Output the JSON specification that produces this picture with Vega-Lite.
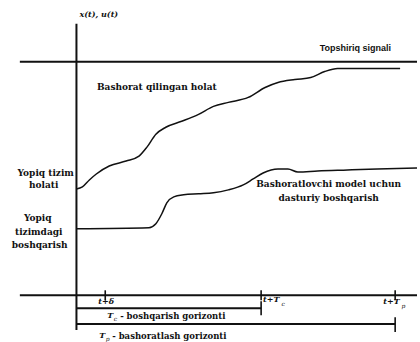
{
  "$schema": "https://vega.github.io/schema/vega-lite/v6.json",
  "width": 420,
  "height": 342,
  "autosize": {"type": "fit", "contains": "padding"},
  "padding": 0,
  "background": "white",
  "config": {"view": {"stroke": null}},
  "datasets": {
    "axes": [
      {"x": 0, "x2": 0, "y": -3.5, "y2": 27.3},
      {"x": -5.7, "x2": 34.3, "y": 23.5, "y2": 23.5},
      {"x": -5.7, "x2": 34.3, "y": 0, "y2": 0},
      {"x": 0, "x2": 18.6, "y": -1.3, "y2": -1.3},
      {"x": 0, "x2": 32.1, "y": -2.9, "y2": -2.9}
    ],
    "ticks": [
      {"x": 2.9, "x2": 2.9, "y": -0.5, "y2": 0.5},
      {"x": 18.6, "x2": 18.6, "y": -0.5, "y2": 0.5},
      {"x": 32.1, "x2": 32.1, "y": -0.5, "y2": 0.5},
      {"x": 18.6, "x2": 18.6, "y": -0.6, "y2": -2.0},
      {"x": 32.1, "x2": 32.1, "y": -2.2, "y2": -3.7}
    ],
    "curves": [
      {"series": "state", "x": 0, "y": 10.7},
      {"series": "state", "x": 0.6, "y": 10.9},
      {"series": "state", "x": 1.3, "y": 11.6},
      {"series": "state", "x": 2.0, "y": 12.2},
      {"series": "state", "x": 3.3, "y": 13.0},
      {"series": "state", "x": 5.0, "y": 13.5},
      {"series": "state", "x": 6.3, "y": 14.0},
      {"series": "state", "x": 7.1, "y": 14.9},
      {"series": "state", "x": 8.0, "y": 16.2},
      {"series": "state", "x": 9.0, "y": 16.9},
      {"series": "state", "x": 10.6, "y": 17.5},
      {"series": "state", "x": 12.3, "y": 18.2},
      {"series": "state", "x": 13.8, "y": 19.0},
      {"series": "state", "x": 15.3, "y": 19.4},
      {"series": "state", "x": 17.3, "y": 19.9},
      {"series": "state", "x": 19.0, "y": 20.9},
      {"series": "state", "x": 20.3, "y": 21.4},
      {"series": "state", "x": 22.0, "y": 21.7},
      {"series": "state", "x": 23.6, "y": 21.9},
      {"series": "state", "x": 25.0, "y": 22.5},
      {"series": "state", "x": 26.3, "y": 22.8},
      {"series": "state", "x": 28.3, "y": 22.8},
      {"series": "state", "x": 32.6, "y": 22.8},
      {"series": "control", "x": 0, "y": 6.7},
      {"series": "control", "x": 7.3, "y": 6.8},
      {"series": "control", "x": 8.0, "y": 7.2},
      {"series": "control", "x": 8.6, "y": 8.2},
      {"series": "control", "x": 9.1, "y": 9.3},
      {"series": "control", "x": 9.8, "y": 9.9},
      {"series": "control", "x": 10.8, "y": 10.1},
      {"series": "control", "x": 12.3, "y": 10.2},
      {"series": "control", "x": 13.8, "y": 10.3},
      {"series": "control", "x": 15.3, "y": 10.6},
      {"series": "control", "x": 16.8, "y": 11.1},
      {"series": "control", "x": 17.8, "y": 11.7},
      {"series": "control", "x": 18.8, "y": 12.3},
      {"series": "control", "x": 20.3, "y": 12.7},
      {"series": "control", "x": 21.3, "y": 12.7},
      {"series": "control", "x": 22.3, "y": 12.4},
      {"series": "control", "x": 24.3, "y": 12.5},
      {"series": "control", "x": 27.3, "y": 12.6},
      {"series": "control", "x": 30.3, "y": 12.7},
      {"series": "control", "x": 34.3, "y": 12.8}
    ],
    "labelsCentered": [
      {"x": 8.1, "y": 20.9, "text": "Bashorat qilingan holat"},
      {"x": -3.1, "y": 12.3, "text": "Yopiq tizim"},
      {"x": -3.3, "y": 11.1, "text": "holati"},
      {"x": -3.9, "y": 7.8, "text": "Yopiq"},
      {"x": -3.8, "y": 6.4, "text": "tizimdagi"},
      {"x": -3.7, "y": 5.1, "text": "boshqarish"},
      {"x": 25.4, "y": 11.2, "text": "Bashoratlovchi model uchun"},
      {"x": 25.4, "y": 9.8, "text": "dasturiy boshqarish"}
    ],
    "setpoint": [
      {"x": 28.1, "y": 24.9, "text": "Topshiriq signali"}
    ],
    "italicMarks": [
      {"x": 0.3, "y": 28.2, "text": "x(t), u(t)"},
      {"x": 2.2, "y": -0.7, "text": "t+δ"},
      {"x": 18.8, "y": -0.5, "text": "t+T"},
      {"x": 30.9, "y": -0.7, "text": "t+T"},
      {"x": 3.1, "y": -2.1, "text": "T"},
      {"x": 2.3, "y": -4.1, "text": "T"}
    ],
    "subscripts": [
      {"x": 20.65, "y": -0.85, "text": "c"},
      {"x": 32.75, "y": -1.05, "text": "p"},
      {"x": 3.75, "y": -2.4, "text": "c"},
      {"x": 2.95, "y": -4.4, "text": "p"}
    ],
    "horizonText": [
      {"x": 4.4, "y": -2.1, "text": "- boshqarish gorizonti"},
      {"x": 3.6, "y": -4.1, "text": "- bashoratlash gorizonti"}
    ]
  },
  "encoding": {
    "x": {"field": "x", "type": "quantitative", "scale": {"domain": [-7.7, 34.3], "nice": false, "zero": false}, "axis": null},
    "y": {"field": "y", "type": "quantitative", "scale": {"domain": [-4.5, 29.7], "nice": false, "zero": false}, "axis": null}
  },
  "layer": [
    {
      "data": {"name": "axes"},
      "mark": {"type": "rule", "color": "#111", "strokeWidth": 2},
      "encoding": {"x2": {"field": "x2"}, "y2": {"field": "y2"}}
    },
    {
      "data": {"name": "ticks"},
      "mark": {"type": "rule", "color": "#111", "strokeWidth": 1.6},
      "encoding": {"x2": {"field": "x2"}, "y2": {"field": "y2"}}
    },
    {
      "data": {"name": "curves"},
      "mark": {"type": "line", "color": "#111", "strokeWidth": 1.5, "interpolate": "monotone"},
      "encoding": {"detail": {"field": "series"}}
    },
    {
      "data": {"name": "labelsCentered"},
      "mark": {"type": "text", "font": "DejaVu Serif", "fontWeight": "bold", "fontSize": 9, "align": "center", "baseline": "middle", "color": "#111"},
      "encoding": {"text": {"field": "text"}}
    },
    {
      "data": {"name": "setpoint"},
      "mark": {"type": "text", "font": "Liberation Sans", "fontWeight": "bold", "fontSize": 9, "align": "center", "baseline": "middle", "color": "#111"},
      "encoding": {"text": {"field": "text"}}
    },
    {
      "data": {"name": "italicMarks"},
      "mark": {"type": "text", "font": "DejaVu Serif", "fontStyle": "italic", "fontWeight": "bold", "fontSize": 8, "align": "left", "baseline": "middle", "color": "#111"},
      "encoding": {"text": {"field": "text"}}
    },
    {
      "data": {"name": "subscripts"},
      "mark": {"type": "text", "font": "DejaVu Serif", "fontStyle": "italic", "fontSize": 6, "align": "left", "baseline": "middle", "color": "#111"},
      "encoding": {"text": {"field": "text"}}
    },
    {
      "data": {"name": "horizonText"},
      "mark": {"type": "text", "font": "DejaVu Serif", "fontWeight": "bold", "fontSize": 8.5, "align": "left", "baseline": "middle", "color": "#111"},
      "encoding": {"text": {"field": "text"}}
    }
  ]
}
